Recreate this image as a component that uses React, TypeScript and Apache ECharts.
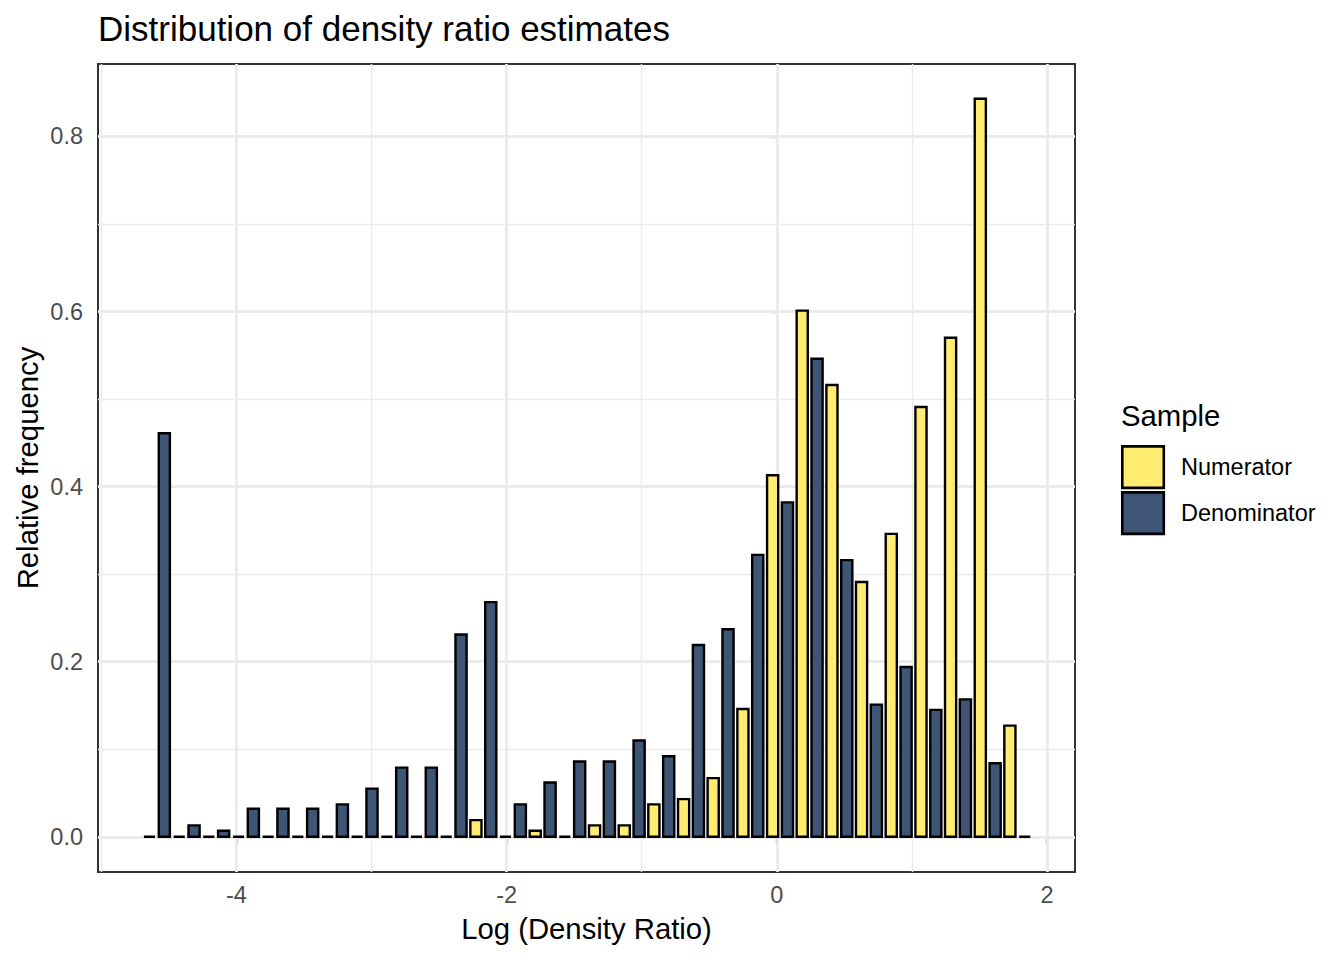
import React, { useEffect, useRef } from "react";
import * as echarts from "echarts";

// Histogram bins (centres on Log(Density Ratio)) and bin width
const binCenters = [
  -4.588, -4.368, -4.149, -3.929, -3.71, -3.49, -3.27, -3.051, -2.831, -2.612,
  -2.392, -2.172, -1.953, -1.733, -1.514, -1.294, -1.074, -0.855, -0.635, -0.416,
  -0.196, 0.024, 0.243, 0.463, 0.682, 0.902, 1.122, 1.341, 1.561, 1.78,
];
const BIN_WIDTH = 0.2196;

// Relative frequency (density) per bin
const numerator = [
  0, 0, 0, 0, 0, 0, 0, 0, 0, 0,
  0, 0.019, 0, 0.007, 0, 0.013, 0.013, 0.037, 0.043, 0.067,
  0.146, 0.413, 0.601, 0.516, 0.291, 0.346, 0.491, 0.57, 0.843, 0.127,
];
const denominator = [
  0.461, 0.013, 0.007, 0.032, 0.032, 0.032, 0.037, 0.055, 0.079, 0.079,
  0.231, 0.268, 0.037, 0.062, 0.086, 0.086, 0.11, 0.092, 0.219, 0.237,
  0.322, 0.382, 0.546, 0.316, 0.151, 0.194, 0.145, 0.157, 0.084, 0,
];

const seriesNames = ["Numerator", "Denominator"];
const xTicks = [-4, -2, 0, 2];
const xMinor = [-5, -3, -1, 1];
const yTicks = [0, 0.2, 0.4, 0.6, 0.8];
const yMinor = [0.1, 0.3, 0.5, 0.7];

const COLORS = ["#FFEC70", "#3F5576"];
const FONT = "Liberation Sans";

export default function App() {
  const ref = useRef<HTMLDivElement>(null);

  useEffect(() => {
    if (!ref.current) return;
    const chart = echarts.init(ref.current, null, { renderer: "svg" });

    const makeRender = (side: number, color: string) => (params: any, api: any) => {
      const c = api.value(0);
      const v = api.value(1);
      const xc = c + (side * BIN_WIDTH) / 4;
      const base = api.coord([xc, 0]);
      const top = api.coord([xc, v]);
      const slot = api.size([BIN_WIDTH / 2, 0])[0];
      const w = slot * 0.75;
      return {
        type: "rect",
        shape: { x: base[0] - w / 2, y: top[1], width: w, height: base[1] - top[1] },
        style: { fill: color, stroke: "#000000", lineWidth: 2.4 },
      };
    };

    const gridLines = [
      ...xMinor.map((v) => ({ xAxis: v, lineStyle: { color: "#EBEBEB", width: 1.4, type: "solid" } })),
      ...yMinor.map((v) => ({ yAxis: v, lineStyle: { color: "#EBEBEB", width: 1.4, type: "solid" } })),
      ...xTicks.map((v) => ({ xAxis: v, lineStyle: { color: "#EBEBEB", width: 2.8, type: "solid" } })),
      ...yTicks.map((v) => ({ yAxis: v, lineStyle: { color: "#EBEBEB", width: 2.8, type: "solid" } })),
    ];

    const option: any = {
      animation: false,
      backgroundColor: "#FFFFFF",
      title: {
        text: "Distribution of density ratio estimates",
        left: 98,
        top: 10.5,
        padding: 0,
        textStyle: { fontSize: 35, fontWeight: "normal", color: "#000000", fontFamily: FONT, lineHeight: 35 },
      },
      grid: {
        left: 98,
        top: 64,
        width: 977,
        height: 808,
        show: true,
        borderColor: "#333333",
        borderWidth: 2,
        backgroundColor: "transparent",
      },
      xAxis: {
        type: "value",
        min: -5.024,
        max: 2.207,
        axisLine: { show: false },
        splitLine: { show: false },
        axisTick: { show: true, customValues: xTicks, length: 7, lineStyle: { color: "#333333", width: 2.2 } },
        axisLabel: {
          customValues: xTicks,
          fontSize: 23.5,
          color: "#4D4D4D",
          fontFamily: FONT,
          margin: 11,
          formatter: (v: number) => String(v),
        },
      },
      yAxis: {
        type: "value",
        min: -0.0402,
        max: 0.8827,
        axisLine: { show: false },
        splitLine: { show: false },
        axisTick: { show: true, customValues: yTicks, length: 7, lineStyle: { color: "#333333", width: 2.2 } },
        axisLabel: {
          customValues: yTicks,
          fontSize: 23.5,
          color: "#4D4D4D",
          fontFamily: FONT,
          margin: 15,
          formatter: (v: number) => v.toFixed(1),
        },
      },
      series: [
        {
          name: seriesNames[0],
          type: "custom",
          z: 2,
          silent: true,
          renderItem: makeRender(-1, COLORS[0]),
          encode: { x: 0, y: 1 },
          data: binCenters.map((c, i) => [c, numerator[i]]),
          markLine: {
            silent: true,
            z: 1,
            symbol: ["none", "none"],
            label: { show: false },
            emphasis: { disabled: true },
            data: gridLines,
          },
        },
        {
          name: seriesNames[1],
          type: "custom",
          z: 2,
          silent: true,
          renderItem: makeRender(1, COLORS[1]),
          encode: { x: 0, y: 1 },
          data: binCenters.map((c, i) => [c, denominator[i]]),
        },
      ],
      graphic: [
        {
          type: "text",
          x: 586.5,
          y: 928,
          style: { text: "Log (Density Ratio)", fontSize: 29.3, fontFamily: FONT, fill: "#000000", align: "center", verticalAlign: "middle" },
        },
        {
          type: "text",
          x: 27,
          y: 468,
          rotation: Math.PI / 2,
          style: { text: "Relative frequency", fontSize: 29.3, fontFamily: FONT, fill: "#000000", align: "center", verticalAlign: "middle" },
        },
        {
          type: "text",
          x: 1121,
          y: 415,
          style: { text: "Sample", fontSize: 29.3, fontFamily: FONT, fill: "#000000", align: "left", verticalAlign: "middle" },
        },
        {
          type: "rect",
          shape: { x: 1122.3, y: 446.4, width: 41.5, height: 41.5 },
          style: { fill: COLORS[0], stroke: "#000000", lineWidth: 2.6 },
        },
        {
          type: "rect",
          shape: { x: 1122.3, y: 492.4, width: 41.5, height: 41.5 },
          style: { fill: COLORS[1], stroke: "#000000", lineWidth: 2.6 },
        },
        {
          type: "text",
          x: 1181,
          y: 467,
          style: { text: seriesNames[0], fontSize: 23.5, fontFamily: FONT, fill: "#000000", align: "left", verticalAlign: "middle" },
        },
        {
          type: "text",
          x: 1181,
          y: 513,
          style: { text: seriesNames[1], fontSize: 23.5, fontFamily: FONT, fill: "#000000", align: "left", verticalAlign: "middle" },
        },
      ],
    };

    chart.setOption(option);
    return () => chart.dispose();
  }, []);

  return (
    <div
      ref={ref}
      style={{ position: "fixed", left: 0, top: 0, width: 1344, height: 960, background: "#FFFFFF" }}
    />
  );
}
